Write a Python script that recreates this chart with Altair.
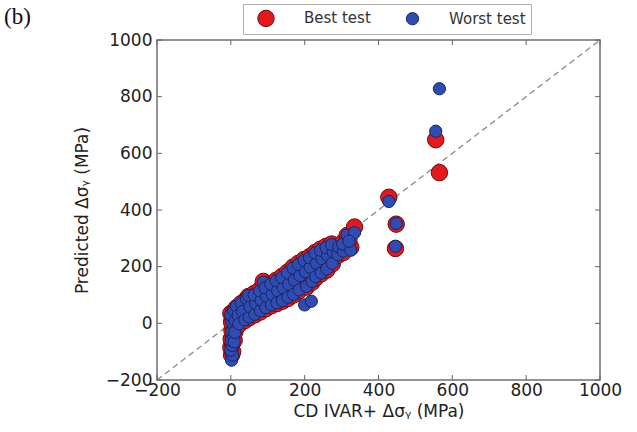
import altair as alt
import pandas as pd

# CD IVAR+ values (x) shared by both tests, predicted values for each test
x_cd = [2, 5, 0, 4, 1, 6, 3, 7, 2, 5, 9, 11, 0, 8, 12,
        15, 20, 22, 28, 32, 38, 42,
        50, 52, 48, 65, 67, 63, 80, 82, 78, 88, 95, 97, 93,
        110, 112, 108, 125, 127, 123, 140, 142, 138, 155, 157, 153,
        170, 172, 168, 185, 187, 183, 200, 202, 198, 205, 218, 215, 213, 220,
        230, 232, 228, 245, 247, 243, 260, 262, 258, 275, 277, 273,
        290, 292, 305, 303, 315, 325, 335, 320,
        555, 565, 428, 448, 446]
y_best = [-112, -100, -85, -70, -55, -40, -25, -10, 5, 20, -60, -30, 35, 40, 10,
          55, 25, -5, 70, 40, 10, 85,
          20, 55, 95, 30, 68, 105, 40, 80, 118, 148, 52, 92, 128,
          62, 100, 140, 70, 112, 152, 78, 122, 165, 88, 135, 180,
          100, 150, 198, 115, 165, 212, 150, 180, 225, 128, 165, 195, 235, 145,
          160, 210, 250, 175, 225, 262, 188, 238, 272, 210, 250, 280,
          240, 272, 250, 285, 310, 268, 340, 295,
          648, 532, 445, 350, 264]
y_worst = [-130, -112, -95, -78, -60, -42, -25, -8, 8, 22, -65, -32, 30, 45, 10,
           60, 28, -2, 72, 42, 12, 88,
           22, 58, 98, 32, 70, 100, 44, 82, 115, 145, 55, 95, 125,
           65, 102, 138, 72, 115, 150, 80, 125, 162, 92, 138, 178,
           102, 152, 195, 118, 168, 208, 65, 182, 222, 130, 78, 198, 232, 148,
           165, 212, 248, 178, 228, 258, 192, 240, 268, 212, 252, 278,
           242, 270, 255, 280, 312, 258, 320, 290,
           678, 828, 430, 352, 272]

series_names = ["Best test", "Worst test"]
fill_colors = ["#e3191e", "#2f4cb3"]
edge_colors = ["#6e0a0a", "#182560"]
marker_sizes = [270, 150]

tick_values = [-200, 0, 200, 400, 600, 800, 1000]
diag_values = [-200, 1000]

W, H = 443, 340

rows = []
for name, ys in zip(series_names, [y_best, y_worst]):
    for xv, yv in zip(x_cd, ys):
        rows.append({"x": xv, "y": yv, "series": name})
df = pd.DataFrame(rows)
diag_df = pd.DataFrame({"x": diag_values, "y": diag_values})
tick_df = pd.DataFrame({"t": tick_values})
label_df = pd.DataFrame({"lab": ["(b)"]})

xs = alt.Scale(domain=[-200, 1000], nice=False, zero=False)
ys_ = alt.Scale(domain=[-200, 1000], nice=False, zero=False)

common_axis = dict(values=tick_values, tickSize=0, grid=False, domain=False,
                   labelFont="DejaVu Sans", labelFontSize=17, labelColor="#222",
                   titleFont="DejaVu Sans", titleFontSize=17, titleFontWeight="normal",
                   titleColor="#222", labelFlush=False, labelOverlap=False, format="d")

xaxis = alt.Axis(title="CD IVAR+ Δσᵧ (MPa)", labelPadding=2, titlePadding=5, **common_axis)
yaxis = alt.Axis(title="Predicted Δσᵧ (MPa)", labelPadding=5, titlePadding=14, **common_axis)

X = lambda f: alt.X(f, scale=xs, axis=xaxis)
Y = lambda f: alt.Y(f, scale=ys_, axis=yaxis)

diag = alt.Chart(diag_df).mark_line(color="#8a8a8a", strokeDash=[6, 4], strokeWidth=1.3).encode(
    x=X("x:Q"), y=Y("y:Q"),
)

pts = alt.Chart(df).mark_circle(opacity=1, strokeWidth=1).encode(
    x=X("x:Q"), y=Y("y:Q"),
    fill=alt.Fill("series:N", scale=alt.Scale(domain=series_names, range=fill_colors), title=None),
    stroke=alt.Stroke("series:N", scale=alt.Scale(domain=series_names, range=edge_colors), title=None),
    size=alt.Size("series:N", scale=alt.Scale(domain=series_names, range=marker_sizes), title=None),
)

tick_kw = dict(color="#666", strokeWidth=1)
tb = alt.Chart(tick_df).mark_rule(**tick_kw).encode(x=X("t:Q"), y=alt.value(H), y2=alt.value(H - 5))
tt = alt.Chart(tick_df).mark_rule(**tick_kw).encode(x=X("t:Q"), y=alt.value(0), y2=alt.value(5))
tl = alt.Chart(tick_df).mark_rule(**tick_kw).encode(y=Y("t:Q"), x=alt.value(0), x2=alt.value(5))
tr = alt.Chart(tick_df).mark_rule(**tick_kw).encode(y=Y("t:Q"), x=alt.value(W), x2=alt.value(W - 5))

panel = alt.Chart(label_df).mark_text(font="Liberation Serif", fontSize=23, align="left",
                                      baseline="alphabetic", color="#111").encode(
    text="lab:N", x=alt.value(-153), y=alt.value(-16))

chart = alt.layer(diag, pts, tb, tt, tl, tr, panel).properties(
    width=W, height=H,
    autosize=alt.AutoSizeParams(type="none"),
    padding={"left": 157, "top": 40, "right": 37, "bottom": 52},
).configure_view(
    stroke="#707070", strokeWidth=1.5
).configure_legend(
    orient="none", legendX=86, legendY=-36, direction="horizontal",
    strokeColor="#b0b0b0", fillColor="white", padding=5,
    labelFont="DejaVu Sans", labelFontSize=15, labelColor="#333",
    labelOffset=29, symbolOffset=9, columnPadding=25, symbolStrokeWidth=1,
)

chart.save("out.html", embed_options={"renderer": "svg", "actions": False})
